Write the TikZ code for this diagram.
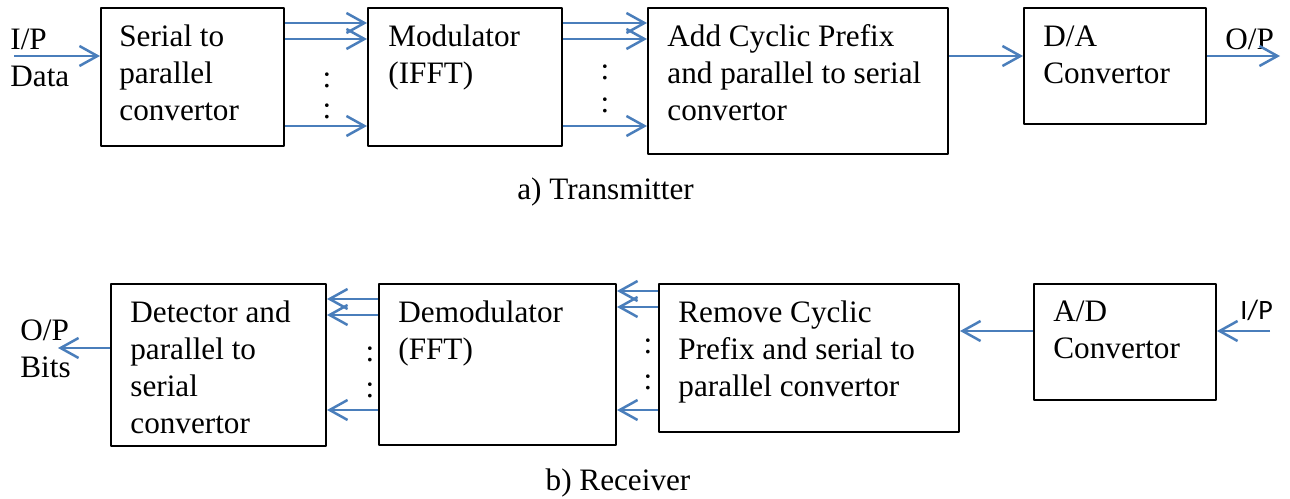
\documentclass[tikz,border=0pt]{standalone}
\usepackage{fontspec}
\setmainfont{Liberation Serif}
\newfontfamily\calfont{Carlito}
\usetikzlibrary{arrows.meta}
\definecolor{sigblue}{HTML}{4A7EBB}

\begin{document}
\begin{tikzpicture}[>={Straight Barb[length=9bp,width=10bp]},line join=bevel,
  every node/.style={font=\fontsize{15.6bp}{18.5bp}\selectfont},
  blk/.style={draw,line width=1bp,rectangle,anchor=north west,inner sep=0pt},
  txt/.style={anchor=north west,inner sep=0pt,align=left},
  sig/.style={->,draw=sigblue,line width=1.25bp}]
\useasboundingbox (0bp,0bp) rectangle (645bp,249.5bp);
%% transmitter
  \node (SP) at (50bp,246bp) [blk,minimum width=91.5bp,minimum height=69bp] {};
  \node (Mod) at (183.5bp,246bp) [blk,minimum width=97bp,minimum height=69bp] {};
  \node (ACP) at (323.5bp,246bp) [blk,minimum width=150bp,minimum height=73bp] {};
  \node (DA) at (511.5bp,246bp) [blk,minimum width=91bp,minimum height=58bp] {};
  \node (SPt) at (59.5bp,237.25bp) [txt] {Serial to\\parallel\\convertor};
  \node (Modt) at (194bp,237.25bp) [txt] {Modulator\\(IFFT)};
  \node (ACPt) at (333.5bp,237.25bp) [txt] {Add Cyclic Prefix\\and parallel to serial\\convertor};
  \node (DAt) at (521.5bp,236.5bp) [txt] {D/A\\Convertor};
  \node (IP) at (5bp,235bp) [txt] {I/P\\Data};
  \node (OP) at (612.5bp,224.5bp) [anchor=base west,inner sep=0pt] {O/P};
  \coordinate (In) at (7bp,221.5bp);
  \coordinate (Out) at (640bp,221.5bp);
  \draw [sig] (In) -- (SP.west |- In);
  \draw [sig] (SP.east |- 0,238bp) -- (Mod.west |- 0,238bp);
  \draw [sig] (SP.east |- 0,230bp) -- (Mod.west |- 0,230bp);
  \draw [sig] (SP.east |- 0,186.5bp) -- (Mod.west |- 0,186.5bp);
  \draw [sig] (Mod.east |- 0,238bp) -- (ACP.west |- 0,238bp);
  \draw [sig] (Mod.east |- 0,230bp) -- (ACP.west |- 0,230bp);
  \draw [sig] (Mod.east |- 0,186.5bp) -- (ACP.west |- 0,186.5bp);
  \draw [sig] (ACP.east |- In) -- (DA.west |- In);
  \draw [sig] (DA.east |- Out) -- (Out);
  \node (dA1) at (163.5bp,209.5bp) {:};
  \node (dA2) at (163.5bp,194bp) {:};
  \node (dB1) at (302.5bp,213.5bp) {:};
  \node (dB2) at (302.5bp,197bp) {:};
  \node (capA) at (302.75bp,149.5bp) [anchor=base] {a) Transmitter};
%% receiver
  \node (Det) at (55bp,108bp) [blk,minimum width=107.5bp,minimum height=81bp] {};
  \node (Dem) at (189bp,108bp) [blk,minimum width=118.5bp,minimum height=80.5bp] {};
  \node (RCP) at (329bp,108bp) [blk,minimum width=150bp,minimum height=74bp] {};
  \node (AD) at (516.5bp,108bp) [blk,minimum width=91bp,minimum height=58bp] {};
  \node (Dett) at (65bp,99.25bp) [txt] {Detector and\\parallel to\\serial\\convertor};
  \node (Demt) at (199bp,99.25bp) [txt] {Demodulator\\(FFT)};
  \node (RCPt) at (339bp,99.25bp) [txt] {Remove Cyclic\\Prefix and serial to\\parallel convertor};
  \node (ADt) at (526.5bp,99.25bp) [txt] {A/D\\Convertor};
  \node (ROP) at (10bp,90bp) [txt] {O/P\\Bits};
  \node (RIP) at (620bp,89.5bp) [anchor=base west,inner sep=0pt,font=\calfont\fontsize{14bp}{17bp}\selectfont] {I/P};
  \coordinate (RIn) at (635bp,84bp);
  \coordinate (ROut) at (29bp,75.5bp);
  \draw [sig] (RIn) -- (AD.east |- RIn);
  \draw [sig] (AD.west |- RIn) -- (RCP.east |- RIn);
  \draw [sig] (RCP.west |- 0,104bp) -- (Dem.east |- 0,104bp);
  \draw [sig] (RCP.west |- 0,96bp) -- (Dem.east |- 0,96bp);
  \draw [sig] (RCP.west |- 0,44.5bp) -- (Dem.east |- 0,44.5bp);
  \draw [sig] (Dem.west |- 0,100bp) -- (Det.east |- 0,100bp);
  \draw [sig] (Dem.west |- 0,92bp) -- (Det.east |- 0,92bp);
  \draw [sig] (Dem.west |- 0,44.5bp) -- (Det.east |- 0,44.5bp);
  \draw [sig] (Det.west |- ROut) -- (ROut);
  \node (dC1) at (185bp,72.5bp) {:};
  \node (dC2) at (185bp,54.5bp) {:};
  \node (dD1) at (324bp,76.5bp) {:};
  \node (dD2) at (324bp,58.5bp) {:};
  \node (capB) at (309bp,4.5bp) [anchor=base] {b) Receiver};
%
\end{tikzpicture}
\end{document}
